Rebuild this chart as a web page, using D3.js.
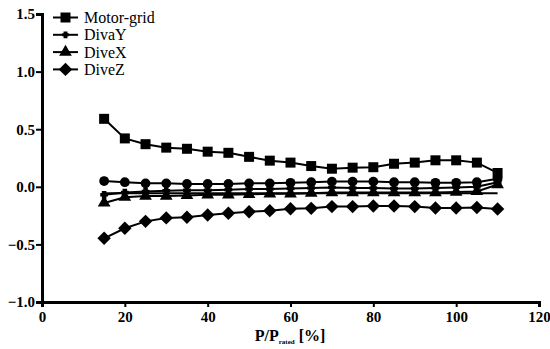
<!DOCTYPE html>
<html><head><meta charset="utf-8">
<script src="https://cdn.jsdelivr.net/npm/d3@7/dist/d3.min.js"></script>
<style>body{margin:0;background:#fff}svg{display:block}</style>
</head><body>
<svg id="c" width="550" height="349" font-family="Liberation Serif"></svg>
<script>
const xValues = [15,20,25,30,35,40,45,50,55,60,65,70,75,80,85,90,95,100,105,110];
const motorGrid = [0.59,0.42,0.37,0.34,0.33,0.305,0.295,0.26,0.227,0.21,0.18,0.157,0.166,0.17,0.2,0.21,0.23,0.23,0.21,0.12];
const divaY = [-0.07,-0.05,-0.04,-0.035,-0.03,-0.03,-0.025,-0.02,-0.02,-0.015,-0.01,-0.005,-0.01,-0.01,-0.015,-0.015,-0.01,-0.005,0.0,0.04];
const diveX = [-0.14,-0.09,-0.08,-0.08,-0.075,-0.07,-0.07,-0.065,-0.06,-0.06,-0.055,-0.05,-0.05,-0.05,-0.05,-0.05,-0.05,-0.045,-0.04,0.02];
const diveZ = [-0.447,-0.36,-0.30,-0.27,-0.265,-0.245,-0.23,-0.216,-0.207,-0.19,-0.187,-0.172,-0.172,-0.167,-0.167,-0.172,-0.184,-0.184,-0.18,-0.193];
const extraCircle = [0.05,0.04,0.03,0.03,0.025,0.025,0.025,0.03,0.03,0.035,0.04,0.045,0.045,0.045,0.04,0.04,0.035,0.035,0.04,0.07];
const baseline = [-0.055,-0.055,-0.055,-0.055,-0.055,-0.055,-0.055,-0.055,-0.055,-0.055,-0.055,-0.055,-0.055,-0.055,-0.055,-0.055,-0.055,-0.055,-0.055,-0.055];
const xTicks = [0,20,40,60,80,100,120];
const yTicks = [-1.0,-0.5,0.0,0.5,1.0,1.5];
const legendNames = ["Motor-grid","DivaY","DiveX","DiveZ"];

const FONT = "Liberation Serif";
const svg = d3.select("#c");
const x = d3.scaleLinear().domain([0,120]).range([42,539]);
const y = d3.scaleLinear().domain([-1,1.5]).range([302,14]);

const diamond = {draw(ctx,size){const r=Math.sqrt(size/2);ctx.moveTo(0,-r);ctx.lineTo(r,0);ctx.lineTo(0,r);ctx.lineTo(-r,0);ctx.closePath();}};
const star = {draw(ctx,size){const r=Math.sqrt(size)/2;const w=r*0.45;
  ctx.moveTo(-r,-w);ctx.lineTo(r,-w);ctx.lineTo(r,w);ctx.lineTo(-r,w);ctx.closePath();
  ctx.moveTo(-w*1.3,-r);ctx.lineTo(w*1.3,-r);ctx.lineTo(w*1.3,r);ctx.lineTo(-w*1.3,r);ctx.closePath();}};

const series = [
  {name:"Baseline", vals:baseline, sym:null},
  {name:"Extra", vals:extraCircle, sym:d3.symbolCircle, size:75},
  {name:"DiveX", vals:diveX, sym:d3.symbolTriangle, size:70},
  {name:"DivaY", vals:divaY, sym:star, size:60},
  {name:"DiveZ", vals:diveZ, sym:diamond, size:90},
  {name:"Motor-grid", vals:motorGrid, sym:d3.symbolSquare, size:100}
];
const line = d3.line().x(d=>x(d[0])).y(d=>y(d[1]));
series.forEach(s=>{
  const pts = xValues.map((xv,i)=>[xv,s.vals[i]]);
  svg.append("path").attr("d",line(pts)).attr("fill","none").attr("stroke","#000").attr("stroke-width",2);
  if(s.sym){
    svg.append("g").selectAll("path").data(pts).join("path")
      .attr("transform",d=>`translate(${x(d[0])},${y(d[1])})`)
      .attr("d",d3.symbol().type(s.sym).size(s.size)).attr("fill","#000");
  }
});

const xAxis = d3.axisBottom(x).tickValues(xTicks).tickFormat(d3.format("d")).tickSizeOuter(0).tickSize(5);
const gx = svg.append("g").attr("transform",`translate(0,${y(-1)})`).call(xAxis);
gx.attr("font-family",FONT);
gx.select(".domain").attr("stroke-width",3);
gx.selectAll(".tick line").attr("stroke-width",2);
gx.selectAll(".tick text").attr("font-family",FONT).attr("font-weight","bold").attr("font-size",15).attr("dy","0.8em");

const yAxis = d3.axisLeft(y).tickValues(yTicks).tickFormat(d3.format(".1f")).tickSizeOuter(0).tickSize(6);
const gy = svg.append("g").attr("transform",`translate(${x(0)},0)`).call(yAxis);
gy.attr("font-family",FONT);
gy.select(".domain").attr("stroke-width",3);
gy.selectAll(".tick line").attr("stroke-width",2);
gy.selectAll(".tick text").attr("font-family",FONT).attr("font-weight","bold").attr("font-size",15).attr("x",-7);

const t = svg.append("text").attr("x",290).attr("y",341).attr("text-anchor","middle")
  .attr("font-family",FONT).attr("font-weight","bold").attr("font-size",16);
t.append("tspan").text("P/P");
t.append("tspan").attr("font-size",7).attr("dy",3).text("rated");
t.append("tspan").attr("dy",-3).text(" [%]");

const legSyms = {"Motor-grid":[d3.symbolSquare,100],"DivaY":[star,45],"DiveX":[d3.symbolTriangle,70],"DiveZ":[diamond,90]};
legendNames.forEach((n,i)=>{
  const ly = 17.5 + i*17.3;
  const g = svg.append("g");
  g.append("line").attr("x1",53).attr("x2",78).attr("y1",ly).attr("y2",ly).attr("stroke","#000").attr("stroke-width",2);
  g.append("path").attr("transform",`translate(65.5,${ly})`).attr("d",d3.symbol().type(legSyms[n][0]).size(legSyms[n][1])).attr("fill","#000");
  g.append("text").attr("x",84).attr("y",ly+5.5).attr("font-family",FONT).attr("font-size",16).text(n);
});
</script>
</body></html>
